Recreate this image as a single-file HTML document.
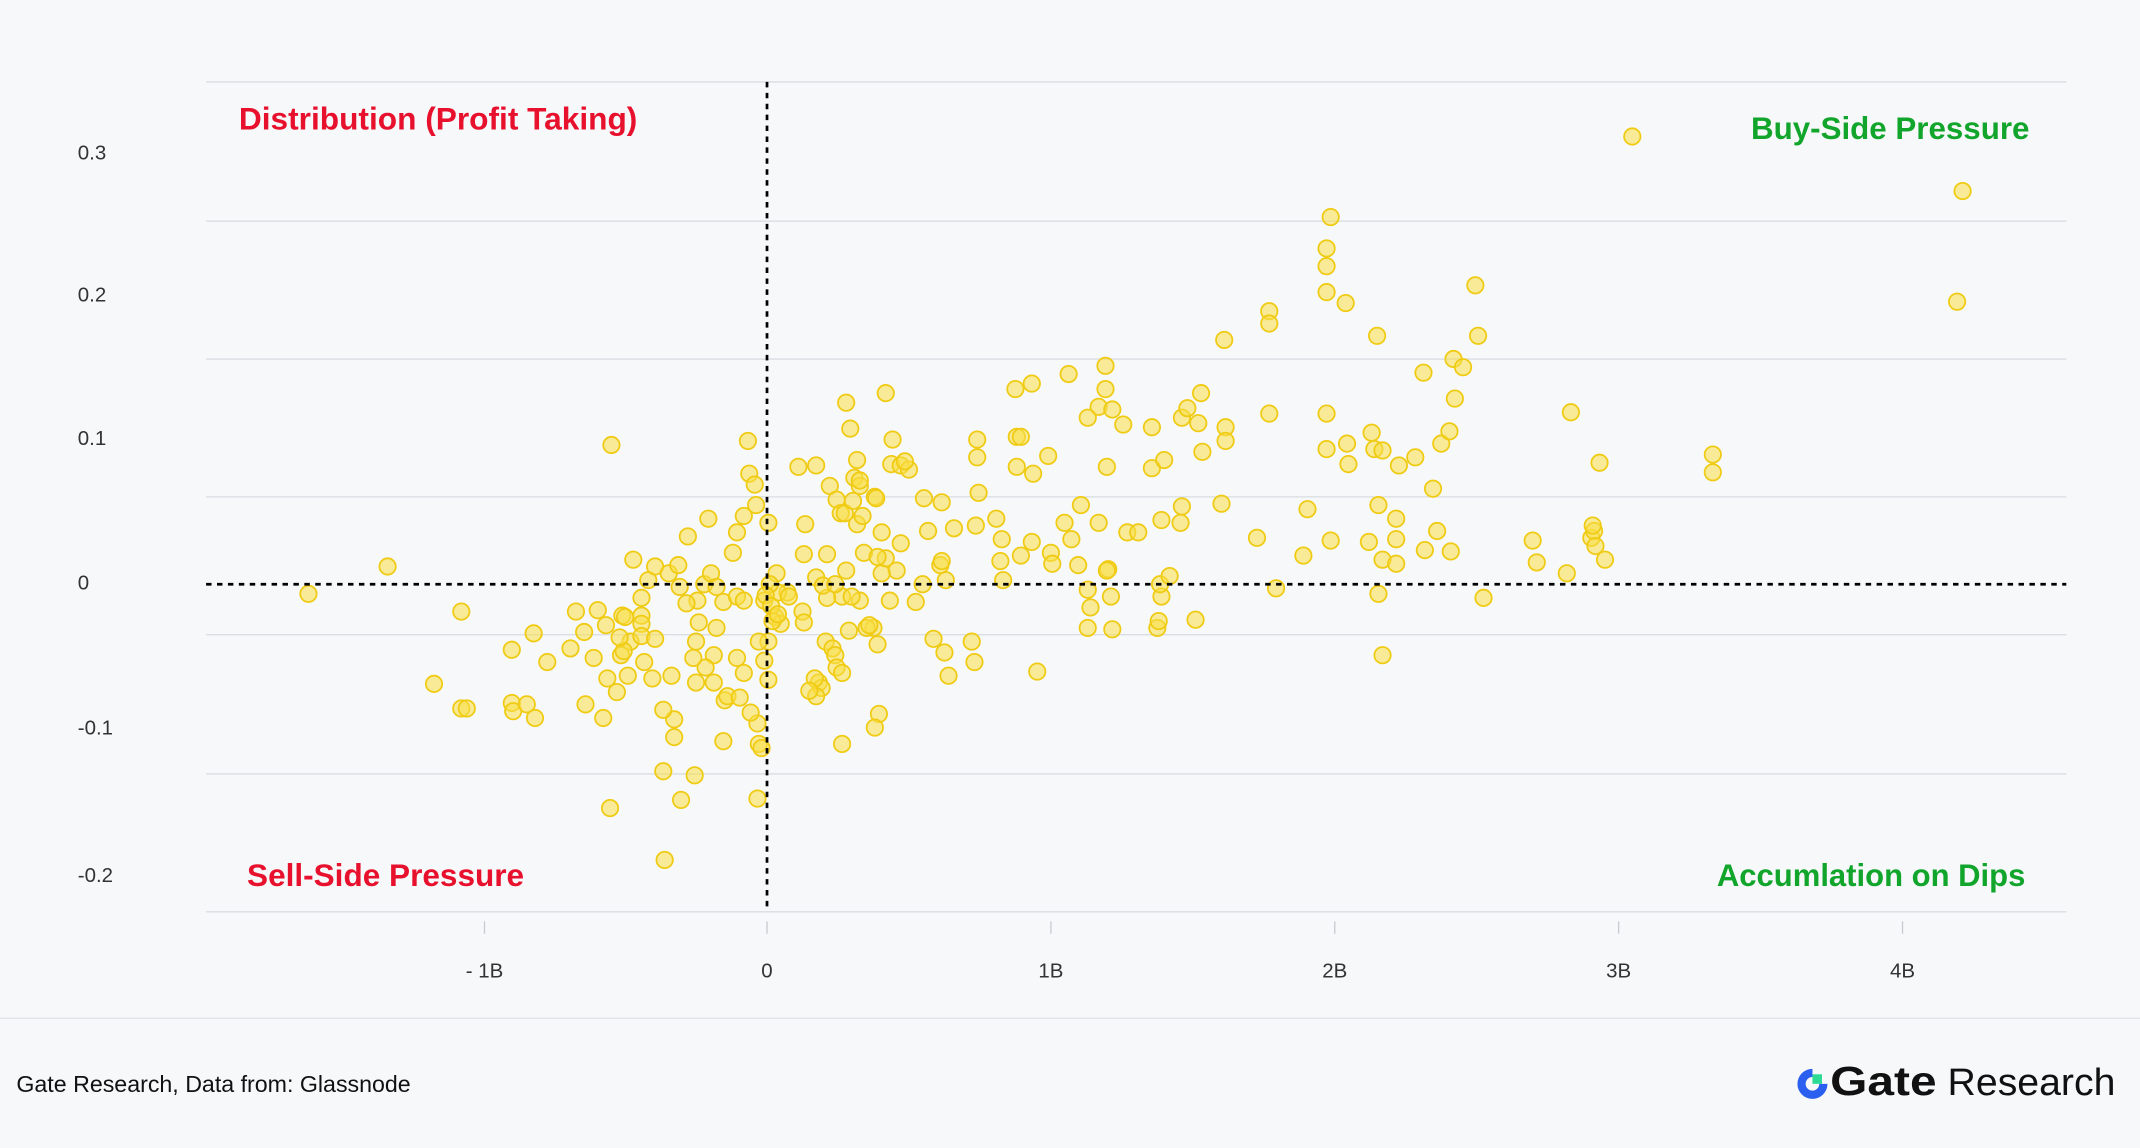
<!DOCTYPE html>
<html><head><meta charset="utf-8"><style>
html,body{margin:0;padding:0;background:#f7f8fa;}
svg{display:block;}
text{font-family:"Liberation Sans",sans-serif;}
</style></head><body>
<svg width="2140" height="1148" viewBox="0 0 1568 841" preserveAspectRatio="none" xmlns="http://www.w3.org/2000/svg">
<rect width="1568" height="841" fill="#f7f8fa"/>
<g stroke="#d9dee2" stroke-width="1">
<line x1="151" y1="60" x2="1514" y2="60"/>
<line x1="151" y1="162" x2="1514" y2="162"/>
<line x1="151" y1="263" x2="1514" y2="263"/>
<line x1="151" y1="364" x2="1514" y2="364"/>
<line x1="151" y1="465" x2="1514" y2="465"/>
<line x1="151" y1="567" x2="1514" y2="567"/>
<line x1="151" y1="668" x2="1514" y2="668"/>
</g>
<g stroke="#c8ccd0" stroke-width="1">
<line x1="355" y1="675" x2="355" y2="684"/><line x1="562" y1="675" x2="562" y2="684"/>
<line x1="770" y1="675" x2="770" y2="684"/><line x1="978" y1="675" x2="978" y2="684"/>
<line x1="1186" y1="675" x2="1186" y2="684"/><line x1="1394" y1="675" x2="1394" y2="684"/>
</g>
<g font-size="15" fill="#333" text-anchor="middle">
<text x="355" y="716">- 1B</text><text x="562" y="716">0</text><text x="770" y="716">1B</text>
<text x="978" y="716">2B</text><text x="1186" y="716">3B</text><text x="1394" y="716">4B</text>
</g>
<g font-size="15" fill="#333">
<text x="57" y="117">0.3</text><text x="57" y="221">0.2</text><text x="57" y="326">0.1</text>
<text x="57" y="432">0</text><text x="57" y="538">-0.1</text><text x="57" y="646">-0.2</text>
</g>
<g fill="rgba(250,222,70,0.55)" stroke="#f0cb14" stroke-width="1.3">
<circle cx="226" cy="435" r="6"/><circle cx="284" cy="415" r="6"/><circle cx="338" cy="448" r="6"/><circle cx="318" cy="501" r="6"/><circle cx="338" cy="519" r="6"/><circle cx="342" cy="519" r="6"/><circle cx="375" cy="476" r="6"/><circle cx="375" cy="515" r="6"/><circle cx="376" cy="521" r="6"/><circle cx="391" cy="464" r="6"/><circle cx="386" cy="516" r="6"/><circle cx="392" cy="526" r="6"/><circle cx="401" cy="485" r="6"/><circle cx="418" cy="475" r="6"/><circle cx="422" cy="448" r="6"/><circle cx="428" cy="463" r="6"/><circle cx="429" cy="516" r="6"/><circle cx="435" cy="482" r="6"/><circle cx="438" cy="447" r="6"/><circle cx="442" cy="526" r="6"/><circle cx="448" cy="326" r="6"/><circle cx="447" cy="592" r="6"/><circle cx="456" cy="451" r="6"/><circle cx="455" cy="480" r="6"/><circle cx="460" cy="495" r="6"/><circle cx="462" cy="470" r="6"/><circle cx="464" cy="410" r="6"/><circle cx="470" cy="451" r="6"/><circle cx="470" cy="438" r="6"/><circle cx="475" cy="425" r="6"/><circle cx="478" cy="497" r="6"/><circle cx="486" cy="565" r="6"/><circle cx="487" cy="630" r="6"/><circle cx="494" cy="527" r="6"/><circle cx="494" cy="540" r="6"/><circle cx="499" cy="586" r="6"/><circle cx="504" cy="393" r="6"/><circle cx="509" cy="568" r="6"/><circle cx="510" cy="470" r="6"/><circle cx="519" cy="380" r="6"/><circle cx="523" cy="480" r="6"/><circle cx="530" cy="543" r="6"/><circle cx="531" cy="513" r="6"/><circle cx="533" cy="510" r="6"/><circle cx="537" cy="405" r="6"/><circle cx="540" cy="390" r="6"/><circle cx="545" cy="378" r="6"/><circle cx="548" cy="323" r="6"/><circle cx="549" cy="347" r="6"/><circle cx="553" cy="355" r="6"/><circle cx="554" cy="370" r="6"/><circle cx="555" cy="530" r="6"/><circle cx="556" cy="545" r="6"/><circle cx="555" cy="585" r="6"/><circle cx="558" cy="548" r="6"/><circle cx="563" cy="498" r="6"/><circle cx="560" cy="440" r="6"/><circle cx="563" cy="470" r="6"/><circle cx="563" cy="383" r="6"/><circle cx="585" cy="342" r="6"/><circle cx="598" cy="341" r="6"/><circle cx="608" cy="356" r="6"/><circle cx="613" cy="366" r="6"/><circle cx="620" cy="295" r="6"/><circle cx="623" cy="314" r="6"/><circle cx="628" cy="337" r="6"/><circle cx="626" cy="350" r="6"/><circle cx="630" cy="356" r="6"/><circle cx="641" cy="364" r="6"/><circle cx="649" cy="288" r="6"/><circle cx="654" cy="322" r="6"/><circle cx="653" cy="340" r="6"/><circle cx="660" cy="341" r="6"/><circle cx="666" cy="344" r="6"/><circle cx="677" cy="365" r="6"/><circle cx="690" cy="368" r="6"/><circle cx="716" cy="322" r="6"/><circle cx="716" cy="335" r="6"/><circle cx="717" cy="361" r="6"/><circle cx="744" cy="285" r="6"/><circle cx="745" cy="320" r="6"/><circle cx="748" cy="320" r="6"/><circle cx="756" cy="281" r="6"/><circle cx="768" cy="334" r="6"/><circle cx="745" cy="342" r="6"/><circle cx="757" cy="347" r="6"/><circle cx="783" cy="274" r="6"/><circle cx="810" cy="268" r="6"/><circle cx="810" cy="285" r="6"/><circle cx="805" cy="298" r="6"/><circle cx="815" cy="300" r="6"/><circle cx="797" cy="306" r="6"/><circle cx="823" cy="311" r="6"/><circle cx="811" cy="342" r="6"/><circle cx="844" cy="313" r="6"/><circle cx="844" cy="343" r="6"/><circle cx="853" cy="337" r="6"/><circle cx="866" cy="306" r="6"/><circle cx="870" cy="299" r="6"/><circle cx="880" cy="288" r="6"/><circle cx="881" cy="331" r="6"/><circle cx="878" cy="310" r="6"/><circle cx="897" cy="249" r="6"/><circle cx="898" cy="313" r="6"/><circle cx="898" cy="323" r="6"/><circle cx="930" cy="228" r="6"/><circle cx="930" cy="237" r="6"/><circle cx="930" cy="303" r="6"/><circle cx="975" cy="159" r="6"/><circle cx="972" cy="182" r="6"/><circle cx="972" cy="195" r="6"/><circle cx="972" cy="214" r="6"/><circle cx="986" cy="222" r="6"/><circle cx="972" cy="303" r="6"/><circle cx="972" cy="329" r="6"/><circle cx="987" cy="325" r="6"/><circle cx="988" cy="340" r="6"/><circle cx="1009" cy="246" r="6"/><circle cx="1005" cy="317" r="6"/><circle cx="1007" cy="329" r="6"/><circle cx="1013" cy="330" r="6"/><circle cx="1037" cy="335" r="6"/><circle cx="1025" cy="341" r="6"/><circle cx="1043" cy="273" r="6"/><circle cx="1050" cy="358" r="6"/><circle cx="1056" cy="325" r="6"/><circle cx="1062" cy="316" r="6"/><circle cx="1066" cy="292" r="6"/><circle cx="1065" cy="263" r="6"/><circle cx="1072" cy="269" r="6"/><circle cx="1081" cy="209" r="6"/><circle cx="1083" cy="246" r="6"/><circle cx="1196" cy="100" r="6"/><circle cx="1438" cy="140" r="6"/><circle cx="1434" cy="221" r="6"/><circle cx="1151" cy="302" r="6"/><circle cx="1172" cy="339" r="6"/><circle cx="1255" cy="333" r="6"/><circle cx="1255" cy="346" r="6"/><circle cx="866" cy="371" r="6"/><circle cx="895" cy="369" r="6"/><circle cx="921" cy="394" r="6"/><circle cx="958" cy="373" r="6"/><circle cx="955" cy="407" r="6"/><circle cx="975" cy="396" r="6"/><circle cx="1003" cy="397" r="6"/><circle cx="1010" cy="370" r="6"/><circle cx="1013" cy="410" r="6"/><circle cx="1023" cy="380" r="6"/><circle cx="1023" cy="395" r="6"/><circle cx="1023" cy="413" r="6"/><circle cx="1044" cy="403" r="6"/><circle cx="1053" cy="389" r="6"/><circle cx="1063" cy="404" r="6"/><circle cx="1010" cy="435" r="6"/><circle cx="1013" cy="480" r="6"/><circle cx="1087" cy="438" r="6"/><circle cx="1123" cy="396" r="6"/><circle cx="1126" cy="412" r="6"/><circle cx="1148" cy="420" r="6"/><circle cx="1166" cy="394" r="6"/><circle cx="1168" cy="389" r="6"/><circle cx="1167" cy="385" r="6"/><circle cx="1169" cy="400" r="6"/><circle cx="1176" cy="410" r="6"/><circle cx="760" cy="492" r="6"/><circle cx="797" cy="432" r="6"/><circle cx="799" cy="445" r="6"/><circle cx="797" cy="460" r="6"/><circle cx="815" cy="461" r="6"/><circle cx="814" cy="437" r="6"/><circle cx="812" cy="417" r="6"/><circle cx="848" cy="460" r="6"/><circle cx="849" cy="455" r="6"/><circle cx="851" cy="437" r="6"/><circle cx="850" cy="428" r="6"/><circle cx="857" cy="422" r="6"/><circle cx="876" cy="454" r="6"/><circle cx="935" cy="431" r="6"/><circle cx="756" cy="397" r="6"/><circle cx="780" cy="383" r="6"/><circle cx="785" cy="395" r="6"/><circle cx="770" cy="405" r="6"/><circle cx="771" cy="413" r="6"/><circle cx="790" cy="414" r="6"/><circle cx="805" cy="383" r="6"/><circle cx="826" cy="390" r="6"/><circle cx="834" cy="390" r="6"/><circle cx="851" cy="381" r="6"/><circle cx="865" cy="383" r="6"/><circle cx="811" cy="418" r="6"/><circle cx="792" cy="370" r="6"/><circle cx="734" cy="395" r="6"/><circle cx="733" cy="411" r="6"/><circle cx="730" cy="380" r="6"/><circle cx="748" cy="407" r="6"/><circle cx="735" cy="425" r="6"/><circle cx="715" cy="385" r="6"/><circle cx="712" cy="470" r="6"/><circle cx="714" cy="485" r="6"/><circle cx="695" cy="495" r="6"/><circle cx="692" cy="478" r="6"/><circle cx="684" cy="468" r="6"/><circle cx="671" cy="441" r="6"/><circle cx="676" cy="428" r="6"/><circle cx="689" cy="414" r="6"/><circle cx="693" cy="425" r="6"/><circle cx="680" cy="389" r="6"/><circle cx="699" cy="387" r="6"/><circle cx="690" cy="411" r="6"/><circle cx="660" cy="398" r="6"/><circle cx="657" cy="418" r="6"/><circle cx="646" cy="420" r="6"/><circle cx="640" cy="460" r="6"/><circle cx="643" cy="472" r="6"/><circle cx="644" cy="523" r="6"/><circle cx="641" cy="533" r="6"/><circle cx="617" cy="545" r="6"/><circle cx="600" cy="500" r="6"/><circle cx="602" cy="504" r="6"/><circle cx="605" cy="470" r="6"/><circle cx="610" cy="475" r="6"/><circle cx="612" cy="480" r="6"/><circle cx="613" cy="489" r="6"/><circle cx="617" cy="493" r="6"/><circle cx="622" cy="462" r="6"/><circle cx="630" cy="440" r="6"/><circle cx="635" cy="460" r="6"/><circle cx="637" cy="458" r="6"/><circle cx="649" cy="409" r="6"/><circle cx="652" cy="440" r="6"/><circle cx="617" cy="437" r="6"/><circle cx="606" cy="438" r="6"/><circle cx="598" cy="423" r="6"/><circle cx="603" cy="429" r="6"/><circle cx="588" cy="448" r="6"/><circle cx="589" cy="456" r="6"/><circle cx="577" cy="434" r="6"/><circle cx="570" cy="434" r="6"/><circle cx="569" cy="420" r="6"/><circle cx="564" cy="428" r="6"/><circle cx="568" cy="452" r="6"/><circle cx="572" cy="457" r="6"/><circle cx="578" cy="437" r="6"/><circle cx="589" cy="406" r="6"/><circle cx="590" cy="384" r="6"/><circle cx="616" cy="376" r="6"/><circle cx="619" cy="376" r="6"/><circle cx="628" cy="384" r="6"/><circle cx="633" cy="405" r="6"/><circle cx="643" cy="408" r="6"/><circle cx="646" cy="390" r="6"/><circle cx="606" cy="406" r="6"/><circle cx="612" cy="428" r="6"/><circle cx="620" cy="418" r="6"/><circle cx="624" cy="437" r="6"/><circle cx="597" cy="497" r="6"/><circle cx="598" cy="510" r="6"/><circle cx="593" cy="506" r="6"/><circle cx="630" cy="352" r="6"/><circle cx="632" cy="378" r="6"/><circle cx="642" cy="365" r="6"/><circle cx="625" cy="367" r="6"/><circle cx="663" cy="338" r="6"/><circle cx="480" cy="415" r="6"/><circle cx="490" cy="420" r="6"/><circle cx="497" cy="414" r="6"/><circle cx="498" cy="430" r="6"/><circle cx="511" cy="440" r="6"/><circle cx="516" cy="428" r="6"/><circle cx="521" cy="420" r="6"/><circle cx="525" cy="430" r="6"/><circle cx="530" cy="441" r="6"/><circle cx="540" cy="437" r="6"/><circle cx="545" cy="440" r="6"/><circle cx="503" cy="442" r="6"/><circle cx="512" cy="456" r="6"/><circle cx="517" cy="489" r="6"/><circle cx="508" cy="482" r="6"/><circle cx="540" cy="482" r="6"/><circle cx="545" cy="493" r="6"/><circle cx="523" cy="500" r="6"/><circle cx="542" cy="511" r="6"/><circle cx="525" cy="460" r="6"/><circle cx="470" cy="457" r="6"/><circle cx="470" cy="466" r="6"/><circle cx="458" cy="452" r="6"/><circle cx="457" cy="477" r="6"/><circle cx="454" cy="467" r="6"/><circle cx="444" cy="458" r="6"/><circle cx="472" cy="485" r="6"/><circle cx="445" cy="497" r="6"/><circle cx="452" cy="507" r="6"/><circle cx="486" cy="520" r="6"/><circle cx="492" cy="495" r="6"/><circle cx="480" cy="468" r="6"/><circle cx="510" cy="500" r="6"/><circle cx="550" cy="522" r="6"/><circle cx="556" cy="470" r="6"/><circle cx="561" cy="436" r="6"/><circle cx="565" cy="444" r="6"/><circle cx="566" cy="455" r="6"/><circle cx="570" cy="450" r="6"/><circle cx="560" cy="484" r="6"/>
</g>
<line x1="151" y1="428" x2="1514" y2="428" stroke="#000" stroke-width="2" stroke-dasharray="4,4"/>
<line x1="562" y1="60" x2="562" y2="668" stroke="#000" stroke-width="2" stroke-dasharray="4,4"/>
<g font-size="23" font-weight="bold">
<text x="175" y="95" fill="#e8112d" textLength="292" lengthAdjust="spacingAndGlyphs">Distribution (Profit Taking)</text>
<text x="1283" y="102" fill="#12a52c" textLength="204" lengthAdjust="spacingAndGlyphs">Buy-Side Pressure</text>
<text x="181" y="649" fill="#e8112d" textLength="203" lengthAdjust="spacingAndGlyphs">Sell-Side Pressure</text>
<text x="1258" y="649" fill="#12a52c" textLength="226" lengthAdjust="spacingAndGlyphs">Accumlation on Dips</text>
</g>
<line x1="0" y1="746" x2="1568" y2="746" stroke="#e2e5e8" stroke-width="1"/>
<text x="12" y="800" font-size="17" fill="#111">Gate Research, Data from: Glassnode</text>
<g transform="translate(1316,781)">
<path d="M12 2 A11 11 0 1 0 23 13 L17 13 A5 5 0 1 1 12 8 Z" fill="#2a5ff0"/>
<rect x="12" y="6" width="7" height="7" fill="#2ddc94"/>
</g>
<text x="1341" y="802" font-size="30" font-weight="bold" fill="#111" textLength="78" lengthAdjust="spacingAndGlyphs">Gate</text>
<text x="1427" y="802" font-size="28" fill="#111" textLength="123" lengthAdjust="spacingAndGlyphs">Research</text>
</svg>
</body></html>
